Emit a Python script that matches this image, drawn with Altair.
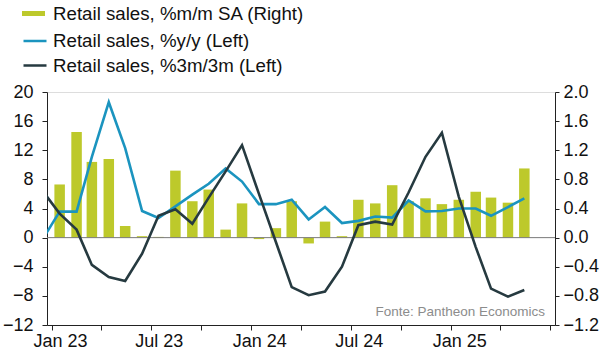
import altair as alt
import pandas as pd

FONT = "Liberation Sans"

# Months (data points at mid-month); line series include Dec 2022 (clipped at left edge)
line_months = [d.strftime("%Y-%m-15") for d in pd.date_range("2022-12-01", "2025-05-01", freq="MS")]
bar_months = line_months[1:]

# Retail sales, %m/m SA (right axis), Jan 23 .. May 25
mm_sa = [0.73, 1.45, 1.04, 1.08, 0.16, 0.02, 0.01, 0.92, 0.50, 0.66, 0.11, 0.47,
         -0.02, 0.13, 0.50, -0.08, 0.22, 0.02, 0.52, 0.47, 0.72, 0.50, 0.54, 0.46,
         0.52, 0.63, 0.55, 0.48, 0.95]

# Retail sales, %y/y (left axis), Dec 22 .. May 25
yy = [-0.2, 3.57, 3.57, 11.1, 18.6, 12.3, 3.66, 2.7, 4.3, 5.9, 7.4, 9.5, 7.7,
      4.6, 4.6, 5.2, 2.5, 4.2, 2.0, 2.3, 2.9, 2.75, 5.1, 3.6, 3.66,
      4.0, 4.0, 3.0, 4.2, 5.4]

# Retail sales, %3m/3m (left axis), Dec 22 .. May 25
m3m3 = [6.4, 3.3, 1.1, -3.75, -5.4, -5.95, -2.2, 3.0, 3.9, 1.9, 5.5, 9.1, 12.7,
        6.0, -0.6, -6.8, -7.9, -7.4, -4.0, 1.7, 2.2, 1.8, 6.2, 11.1, 14.4,
        5.6, -1.3, -7.0, -8.1, -7.2]

BAR_NAME = "Retail sales, %m/m SA (Right)"
YY_NAME = "Retail sales, %y/y (Left)"
M3_NAME = "Retail sales, %3m/3m (Left)"

left_ticks = [-12, -8, -4, 0, 4, 8, 12, 16, 20]
right_ticks = [-1.2, -0.8, -0.4, 0.0, 0.4, 0.8, 1.2, 1.6, 2.0]

df_bar = pd.DataFrame({"date": bar_months, "value": mm_sa, "series": BAR_NAME})
df_line = pd.concat([
    pd.DataFrame({"date": line_months, "value": yy, "series": YY_NAME}),
    pd.DataFrame({"date": line_months, "value": m3m3, "series": M3_NAME}),
])

def ms(s):
    return int(pd.Timestamp(s, tz="UTC").value // 10**6)

x_domain = [ms("2023-01-01"), ms("2025-07-01")]
x_ticks = [ms(d) for d in pd.date_range("2023-01-01", "2025-07-01", freq="3MS").strftime("%Y-%m-%d")]

x_scale = alt.Scale(type="utc", domain=x_domain, nice=False)
x_axis = alt.Axis(
    values=x_ticks, title=None, grid=False,
    labelExpr="utcmonth(datum.value) == 0 ? 'Jan ' + utcFormat(datum.value, '%y') : "
              "(utcmonth(datum.value) == 6 && utcyear(datum.value) < 2025 ? 'Jul ' + utcFormat(datum.value, '%y') : '')",
    tickSize=5, labelPadding=2, labelOffset=8, labelFontSize=18, labelFont=FONT,
    labelColor="#111", domainColor="#222", tickColor="#222", labelFlush=False, labelOverlap=False,
)
x_enc = alt.X("date:T", scale=x_scale, axis=x_axis)

left_scale = alt.Scale(domain=[-12, 20], nice=False, zero=False)
right_scale = alt.Scale(domain=[-1.2, 2.0], nice=False, zero=False)

bars = alt.Chart(df_bar).mark_bar(size=10.5).encode(
    x=x_enc,
    y=alt.Y("value:Q", scale=right_scale, axis=alt.Axis(
        orient="right", values=right_ticks, format=".1f", title=None, grid=False,
        tickSize=4, labelPadding=4, labelFontSize=18, labelFont=FONT, labelColor="#111",
        domainColor="#222", tickColor="#222")),
    color=alt.Color("series:N", scale=alt.Scale(domain=[BAR_NAME], range=["#BDC92B"]),
                    legend=alt.Legend(orient="none", legendX=-25, legendY=-90, title=None,
                                      symbolType="M-1,-0.22L1,-0.22L1,0.22L-1,0.22Z",
                                      symbolSize=529, symbolStrokeWidth=0,
                                      labelFontSize=18.7, labelFont=FONT, labelColor="#111",
                                      labelOffset=8, labelLimit=0, padding=0)),
)

zero = alt.Chart(pd.DataFrame({"y": [0]})).mark_rule(color="#7a7a7a", strokeWidth=1).encode(
    y=alt.Y("y:Q", scale=left_scale, axis=None)
)

lines = alt.Chart(df_line).mark_line(strokeWidth=2.6, clip=True).encode(
    x=x_enc,
    y=alt.Y("value:Q", scale=left_scale, axis=alt.Axis(
        orient="left", values=left_ticks, title=None, grid=False,
        tickSize=5, labelPadding=9, labelFontSize=18, labelFont=FONT, labelColor="#111",
        domainColor="#222", tickColor="#222")),
    stroke=alt.Stroke("series:N", scale=alt.Scale(domain=[YY_NAME, M3_NAME], range=["#1B94BF", "#263A40"]),
                      legend=alt.Legend(orient="none", legendX=-25, legendY=-64, title=None,
                                        symbolType="stroke", symbolSize=529, symbolStrokeWidth=2.5,
                                        labelFontSize=18.7, labelFont=FONT, labelColor="#111",
                                        labelOffset=5, labelLimit=0, rowPadding=1.5, padding=0)),
    detail="series:N",
)

source = alt.Chart(pd.DataFrame({"t": ["Fonte: Pantheon Economics"]})).mark_text(
    align="right", baseline="alphabetic", fontSize=13.5, font=FONT, color="#8c8c8c"
).encode(x=alt.value(498), y=alt.value(224), text="t:N")

chart = alt.layer(bars, zero, lines, source).resolve_scale(
    y="independent", color="independent", stroke="independent"
).properties(
    width=508, height=233,
    padding={"left": 47, "top": 92, "right": 59, "bottom": 32},
    autosize=alt.AutoSizeParams(type="none"),
).configure_view(stroke=None).configure(background="white")

chart.save("out.html", embed_options={"renderer": "svg", "actions": False})
